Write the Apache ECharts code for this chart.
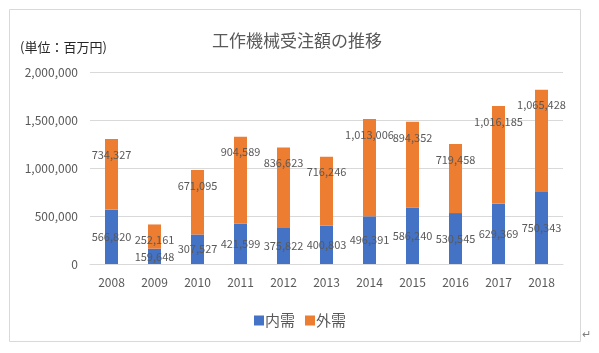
<!DOCTYPE html>
<html><head><meta charset="utf-8">
<script src="https://cdn.jsdelivr.net/npm/echarts@6/dist/echarts.min.js"></script>
<style>html,body{margin:0;padding:0;background:#fff}#c{width:599px;height:353px}</style>
</head><body><div id="c"></div>
<script>
const categories = ['2008','2009','2010','2011','2012','2013','2014','2015','2016','2017','2018'];
const domestic = [566820,159648,307527,421599,375822,400803,496391,586240,530545,629369,750343];
const overseas = [734327,252161,671095,904589,836623,716246,1013006,894352,719458,1016185,1065428];
const yTicks = [0,500000,1000000,1500000,2000000];
const FONT = '"Noto Sans CJK JP", "Noto Sans", sans-serif';
const fmt = v => Number(v).toLocaleString('en-US');
const chart = echarts.init(document.getElementById('c'));
chart.setOption({
  animation:false,
  textStyle:{fontFamily:FONT},
  title:{text:'工作機械受注額の推移',left:207,top:27,textStyle:{fontFamily:FONT,fontSize:17,fontWeight:'normal',color:'#595959'}},
  graphic:[
    {type:'rect',shape:{x:9.5,y:9.5,width:571,height:332},style:{fill:'none',stroke:'#d9d9d9',lineWidth:1},z:-1},
    {type:'text',left:20,top:41,style:{text:'(単位：百万円)',fontFamily:FONT,fontSize:13,fill:'#262626'}},
    {type:'text',left:582,top:328,style:{text:'↵',fontFamily:FONT,fontSize:11,fill:'#7f7f7f'}}
  ],
  legend:{left:249,top:308,itemWidth:10,itemHeight:10,itemGap:10,icon:'rect',
    textStyle:{fontFamily:FONT,fontSize:15,color:'#595959',padding:[0,0,0,-4]},
    data:['内需','外需']},
  grid:{left:90,right:36,top:72,bottom:89},
  xAxis:{type:'category',data:categories,
    axisLine:{lineStyle:{color:'#d9d9d9'}},axisTick:{show:false},
    axisLabel:{color:'#595959',fontSize:12,margin:12,fontFamily:FONT}},
  yAxis:{type:'value',min:yTicks[0],max:yTicks[yTicks.length-1],interval:yTicks[1]-yTicks[0],
    axisLine:{show:false},axisTick:{show:false},
    splitLine:{lineStyle:{color:'#d9d9d9'}},
    axisLabel:{color:'#595959',fontSize:12,margin:12,fontFamily:FONT,formatter:v=>fmt(v)}},
  series:[
    {name:'内需',type:'bar',stack:'a',barWidth:13,data:domestic,itemStyle:{color:'#4472C4'},
      label:{show:true,position:'inside',color:'#595959',fontSize:11,fontFamily:FONT,formatter:p=>fmt(p.value)}},
    {name:'外需',type:'bar',stack:'a',barWidth:13,data:overseas,itemStyle:{color:'#ED7D31'},
      label:{show:true,position:'insideTop',distance:10,color:'#595959',fontSize:11,fontFamily:FONT,formatter:p=>fmt(p.value)}}
  ]
});
</script></body></html>
